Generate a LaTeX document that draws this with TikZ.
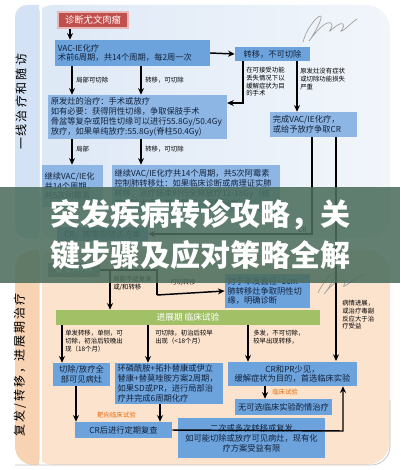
\documentclass[tikz,border=0pt]{standalone}
\usepackage{fontspec}
\setmainfont{Noto Sans CJK SC}
\usetikzlibrary{arrows.meta,calc}
\definecolor{topstrip}{HTML}{D3E2F4}
\definecolor{topmainA}{HTML}{DDE8F6}
\definecolor{topmainB}{HTML}{F2F6FB}
\definecolor{botstrip}{HTML}{F7D2B3}
\definecolor{botmain}{HTML}{FCE3CE}
\definecolor{blueA}{HTML}{6CA3DD}
\definecolor{blueB}{HTML}{8DB6E4}
\definecolor{txt}{HTML}{13223A}
\definecolor{redfill}{HTML}{C0504D}
\definecolor{redline}{HTML}{E9B8B6}
\definecolor{greenbar}{HTML}{A2C167}
\definecolor{grayfill}{HTML}{8A8F8C}
\definecolor{orangetxt}{HTML}{E46C0A}
\definecolor{bannercol}{HTML}{4B6D5C}
\begin{document}
\begin{tikzpicture}[x=0.75pt,y=-0.75pt,
  bx/.style={fill=blueA,text=txt,font=\fontsize{6.2}{7.4}\selectfont,inner xsep=2pt,inner ysep=1pt,align=left},
  redbox/.style={fill=redfill,draw=redline,line width=1.2pt,text=white,font=\fontsize{7}{8}\selectfont,inner sep=0pt},
  graybox/.style={fill=grayfill,text=white,font=\fontsize{6.5}{7.5}\selectfont,inner sep=0pt},
  gbar/.style={fill=greenbar,text=white,font=\fontsize{6.5}{7.5}\selectfont,inner sep=0pt},
  lab/.style={font=\fontsize{4.8}{5.8}\selectfont,align=left,anchor=north west,inner sep=0pt,text=black},
  olab/.style={lab,text=orangetxt},
  arr/.style={-{Stealth[length=5pt,width=4.5pt]},line width=1.1pt,black},
  ln/.style={line width=1.1pt,black},
  side/.style={font=\fontsize{9}{10}\selectfont,rotate=90,text=black,inner sep=0pt},
  ttl/.style={font=\fontsize{22.5}{24}\selectfont\bfseries,anchor=west,inner sep=0pt}]
\useasboundingbox (0,0) rectangle (400,470);
\fill[white] (0,0) rectangle (400,470);
% top panel
\shade[left color=topmainA,right color=topmainB,rounded corners=18pt] (30,5) rectangle (390,238);
\fill[topstrip] (39,5) [rounded corners=9pt] -- (15,5) -- (15,238) [sharp corners] -- (39,238) -- cycle;
\draw[white,line width=1.5pt] (40.5,5) -- (40.5,238);
% bottom panel
\fill[botmain,rounded corners=18pt] (30,250) rectangle (390,465);
\fill[botstrip] (39,250) [rounded corners=14pt] -- (15,250) -- (15,465) [sharp corners] -- (39,465) -- cycle;
\draw[white,line width=1.5pt] (40.5,250) -- (40.5,465);
\draw[gray!45,line width=0.6pt,rounded corners=14pt] (15,465) -- (390,465) -- (390,400);
% side labels
\node[side] (sideA) at (21,102) {一\,线\,治\,疗\,和\,随\,访};
\node[side] (sideB) at (20,365) {复\,发\,/\,转\,移\,，进\,展\,期\,治\,疗};
% scribbles
\draw[gray!75,line width=0.5pt] (303,42) .. controls (306,30) and (315,18) .. (320,16) .. controls (325,15) and (313,36) .. (309,41) .. controls (318,29) and (326,21) .. (331,23) .. controls (335,26) and (327,33) .. (330,31) .. controls (335,27) and (340,22) .. (343,24) .. controls (346,27) and (338,33) .. (342,31) .. controls (347,28) and (352,22) .. (357,19);
\draw[gray!75,line width=0.5pt] (318,293) .. controls (322,284) and (330,274) .. (334,273) .. controls (338,273) and (328,290) .. (324,294) .. controls (332,284) and (340,278) .. (344,280) .. controls (347,283) and (341,288) .. (345,286) .. controls (350,283) and (356,277) .. (364,274);
% ---------- top section nodes
\node[redbox,minimum width=52.5pt,minimum height=12pt] (diag) at (93,20) {诊断尤文肉瘤};
\node[bx,text width=112pt,minimum height=19.5pt] (vac) at (132.5,53) {VAC-IE化疗\\术前6周期，共14个周期，每2周一次};
\node[bx,align=center,minimum width=56.25pt,minimum height=10.5pt,inner sep=0pt] (meta) at (272.5,54) {转移，不可切除};
\node[bx,fill=blueB,text width=130pt,minimum height=33pt] (prim) at (137.5,117) {原发灶的治疗：手术或放疗\\如有必要：获得阴性切缘，争取保肢手术\\骨盆等复杂或阳性切缘可以进行55.8Gy/50.4Gy\\放疗，如果单纯放疗:55.8Gy(脊柱50.4Gy)};
\node[bx,fill=blueB,text width=61pt,minimum height=18.75pt] (fin) at (313.5,124.5) {完成VAC/IE化疗，\\或给予放疗争取CR};
\node[bx,fill=blueB,text width=42pt,minimum height=31.5pt] (contL) at (72.5,186) {继续VAC/IE化\\共14个周期，\\共5次阿霉素};
\node[bx,fill=blueB,text width=122pt,minimum height=35.25pt] (contR) at (196,188.5) {继续VAC/IE化疗共14个周期，共5次阿霉素\\控制肺转移灶：如果临床诊断或病理证实肺\\转移，治疗结束时行全肺放疗12-18Gy（结\\节切除术后，其他情况，局部治疗）};
\node[bx,align=center,minimum width=68.25pt,minimum height=10.5pt,inner sep=0pt] (crf) at (102.5,234) {CR，按常规随访方案};
% ---------- top connectors
\draw[arr] (diag.south -| 70,0) -- (vac.north -| 70,0);
\draw[arr] (vac.south -| 72,0) -- (prim.north -| 72,0);
\node[lab] (l1) at (76,77) {局部可切除};
\draw[arr] (vac.south -| 141,0) -- (prim.north -| 141,0);
\node[lab] (l2) at (145,77) {转移，可切除};
\draw[arr] (vac.east) -- (meta.west);
\draw[arr] (meta.south -| 243,0) -- (243,103) -- (prim.east |- 243,103);
\node[lab] (l3) at (246,67) {在可接受功能\\丢失情况下以\\缓解症状为目\\的手术};
\draw[arr] (meta.south -| 297,0) -- (fin.north -| 297,0);
\node[lab] (l4) at (300,68) {原发灶没有症状\\或切除功能损失\\严重};
\draw[arr] (prim.south -| 72,0) -- (contL.north -| 72,0);
\node[lab] (l5) at (76,146) {局部};
\draw[arr] (prim.south -| 141,0) -- (contR.north -| 141,0);
\node[lab] (l6) at (145,146) {转移，可切除};
\draw[arr] (fin.south -| 312,0) -- (312,234) -- (crf.east);
\node[lab] (l7) at (298,227) {CR};
\draw[arr] (fin.south -| 336,0) -- (336,361);
% ---------- bottom section nodes
\node[graybox,minimum width=39pt,minimum height=10.5pt] (recur) at (74,270) {复发/转移};
\node[bx,text width=60pt,minimum height=25.5pt] (single) at (267.5,291) {对于单发直径<1cm\\肺转移灶争取阴性切\\缘，明确诊断};
\node[gbar,minimum width=198pt,minimum height=11.25pt] (green) at (188,317.5) {进展期 临床试验};
\node[bx,align=center,minimum width=42.75pt,minimum height=17.25pt] (cut) at (81.5,374.5) {切除/放疗全\\部可见病灶};
\node[bx,text width=77pt,minimum height=30.75pt] (chemo) at (169,383.5) {环磷酰胺+拓扑替康或伊立\\替康+替莫唑胺方案2周期，\\如果SD或PR，进行局部治\\疗并完成6周期化疗};
\node[bx,align=center,minimum width=96.75pt,minimum height=18pt] (crpr) at (292.5,374) {CR和PR少见，\\缓解症状为目的，首选临床实验};
\node[bx,align=center,minimum width=69.75pt,minimum height=12pt] (none) at (283.5,407) {无可选临床实验酌情治疗};
\node[bx,align=center,minimum width=72.75pt,minimum height=12pt] (craft) at (123.5,430) {CR后进行定期复查};
\node[bx,align=center,minimum width=110.25pt,minimum height=30pt] (multi) at (251.5,438) {二次或多次转移或复发\\如可能切除或放疗可见病灶，现有化\\疗方案受益有限};
% ---------- bottom connectors
\node[lab] (l8) at (342,300) {病情进展，\\或治疗毒副\\反应大于治\\疗受益};
\draw[ln] (recur.east) -- (157,270) -- (157,295);
\draw[arr] (157,295) -- (single.west);
\node[lab] (l9) at (170,279) {可切转移};
\draw[arr] (110,270) -- (green.north -| 110,0);
\node[lab] (l10) at (113,276) {局部不适复发\\或/和转移};
\draw[arr] (green.south -| 62,0) -- (cut.north -| 62,0);
\node[lab] (l11) at (65,330) {单发转移，单侧，可\\切除，初治后较晚出\\现（18个月）};
\draw[arr] (green.south -| 148,0) -- (chemo.north -| 148,0);
\node[lab] (l12) at (155,330) {可切除，初治后较早\\出现（<18个月）};
\draw[arr] (green.south -| 248,0) -- (crpr.north -| 248,0);
\node[lab] (l13) at (253,330) {多发，不可切除，\\较早出现转移，};
\draw[arr] (cut.south -| 76,0) -- (craft.north -| 76,0);
\draw[arr] (chemo.south -| 160,0) -- (craft.north -| 160,0);
\node[olab] (l14) at (97,412) {靶向临床试验};
\draw[arr] (crpr.south -| 265,0) -- (none.north -| 265,0);
\node[olab] (l15) at (272,389) {临床试验};
\draw[arr] (craft.east) -- (343,431) -- (crpr.south -| 343,0);
% ---------- banner
\fill[bannercol,opacity=0.87] (0,187) rectangle (400,283);
\node[ttl,text=white] (t1) at (50,215) {突发疾病转诊攻略，关};
\node[ttl,text=white] (t2) at (50,255) {键步骤及应对策略全解};
\end{tikzpicture}
\end{document}
